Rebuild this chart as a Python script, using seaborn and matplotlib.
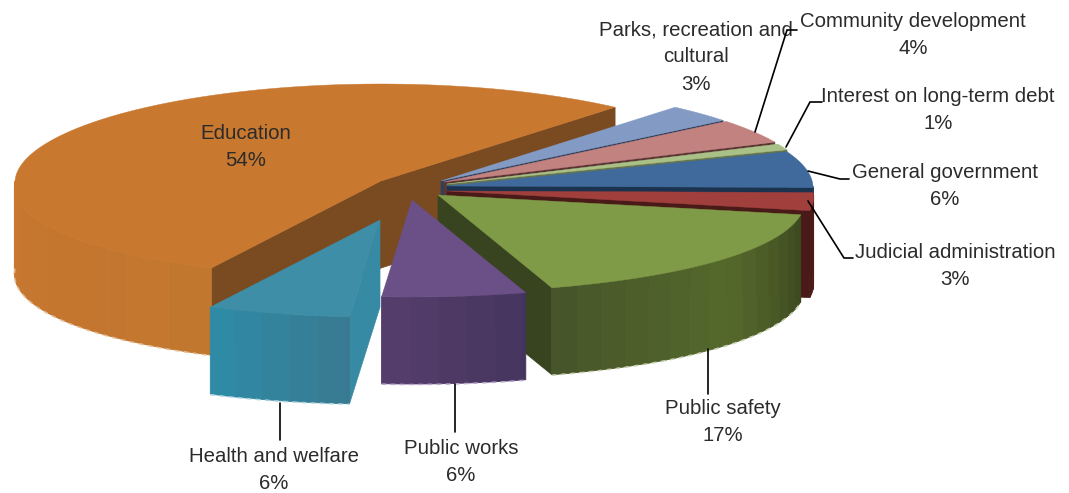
import numpy as np
import matplotlib
matplotlib.use("Agg")
import matplotlib.pyplot as plt
import seaborn as sns

# Spending shares, clockwise from the top right of the pie
categories = ["Parks, recreation and\ncultural", "Community development", "Interest on long-term debt",
              "General government", "Judicial administration", "Public safety",
              "Public works", "Health and welfare", "Education"]
shares = [3, 4, 1, 6, 3, 17, 6, 6, 54]

top_colors = ["#839BC4", "#C2827F", "#A9C186", "#3F6A9B", "#A03F3C", "#7F9B47", "#6A5087", "#3F8EA8", "#C9782F"]
side_colors = [("#5A6F92", "#5A6F92"), ("#8E5F5D", "#8E5F5D"), ("#7C8E60", "#7C8E60"),
               ("#24405F", "#24405F"), ("#4A1A18", "#4F1C1A"), ("#47562A", "#55692B", "#3A4620"),
               ("#553D6B", "#43345C"), ("#2F8AA5", "#3A7890"), ("#C9792F", "#C4762F", "#C2772F")]
cut_colors = ["#2F3F5C", "#5A3533", "#66754C", "#1C3350", "#4A1A18", "#38431F", "#4A3560", "#368AA3", "#7A4A20"]
edge_tints = [None, None, None, None, None, "#C9D0B0", "#BBA9CF", "#A8D3DF", "#E6BE96"]

# Slice tips in drawing units, and the drawing order from back to front
tip_x = [441, 444, 447, 447, 447, 438, 412, 380, 381]
tip_y = [181, 182, 184, 186, 191, 195, 200, 220, 181]
draw_order = [8, 0, 1, 2, 3, 4, 5, 7, 6]

RX, RY, DEPTH, FRONT_WIDEN, BACK_NARROW, START_ANGLE = 366, 97, 87, 0.06, 0.02, 49.5
BAND_STEP = 8

sns.set_theme(style="white")
plt.rcParams["font.family"] = ["Liberation Sans", "DejaVu Sans"]

fig, ax = plt.subplots(figsize=(10.69, 4.93), dpi=100)
fig.subplots_adjust(0, 0, 1, 1)
ax.set_xlim(0, 1069)
ax.set_ylim(493, 0)
ax.axis("off")


def rim(cx, cy, deg):
    """Project rim points of a tilted disc, wider on the half nearest the viewer."""
    t = np.radians(deg)
    u, v = np.cos(t), np.sin(t)
    widen = 1 - FRONT_WIDEN * np.minimum(v, 0) - BACK_NARROW * np.maximum(v, 0)
    return cx + RX * u * widen, cy - RY * v


# Slices run clockwise, so each one ends where the previous one started
ends = START_ANGLE - np.cumsum([0] + shares[:-1]) * 3.6
starts = ends - np.array(shares) * 3.6

for layer, i in enumerate(draw_order):
    a, b = starts[i], ends[i]
    cx, cy = tip_x[i], tip_y[i]
    z = 2 + layer
    angles = np.linspace(a, b, max(int(b - a) * 2, 6))
    xs, ys = rim(cx, cy, angles)

    # Cut faces that turn towards the viewer
    for deg, visible in ((a, np.cos(np.radians(a)) > 0), (b, np.cos(np.radians(b)) < 0)):
        if visible:
            rx_, ry_ = rim(cx, cy, deg)
            ax.fill([cx, rx_, rx_, cx], [cy, ry_, ry_ + DEPTH, cy + DEPTH],
                    color=cut_colors[i], lw=0.5, zorder=z)

    # Outer wall in broad shaded bands around the front of the arc
    front_idx = np.nonzero(np.sin(np.radians(angles)) <= 0)[0]
    if len(front_idx) > 1:
        cuts = list(range(front_idx[0], front_idx[-1], BAND_STEP)) + [front_idx[-1]]
        bands = sns.blend_palette(list(side_colors[i]), max(len(cuts) - 1, 1))
        for n, (p, q) in enumerate(zip(cuts[:-1], cuts[1:])):
            seg_x, seg_y = xs[p:q + 1], ys[p:q + 1]
            ax.fill(np.r_[seg_x, seg_x[::-1]], np.r_[seg_y, seg_y[::-1] + DEPTH],
                    color=bands[n], lw=0.6, zorder=z)
        if edge_tints[i]:
            ax.plot(xs[front_idx], ys[front_idx] + DEPTH + 0.5, color=edge_tints[i],
                    lw=1.1, ls=(0, (3, 3)), zorder=z)

    # Top surface
    ax.fill(np.r_[cx, xs], np.r_[cy, ys], color=top_colors[i], lw=0.3, zorder=z)

# Data labels with their leader lines
label_x = [696, 913, 938, 945, 955, 723, 461, 274, 246]
label_y = [57, 35, 110, 186, 266, 422, 462, 470, 147]
for name, share, x, y in zip(categories, shares, label_x, label_y):
    ax.text(x, y, f"{name}\n{share}%", ha="center", va="center", fontsize=14.7,
            color="#2b2b2b", linespacing=1.55, zorder=30)

leaders = [([797, 787, 755], [30, 30, 132]),
           ([822, 810, 786], [102, 102, 147]),
           ([849, 840, 808], [179, 179, 171]),
           ([853, 844, 808], [258, 258, 201]),
           ([708, 708], [394, 349]),
           ([455, 455], [432, 384]),
           ([280, 280], [440, 403])]
for lx, ly in leaders:
    ax.plot(lx, ly, color="black", lw=1.2, zorder=31, solid_joinstyle="miter")

fig.savefig("out.png", dpi=100, facecolor="white")
